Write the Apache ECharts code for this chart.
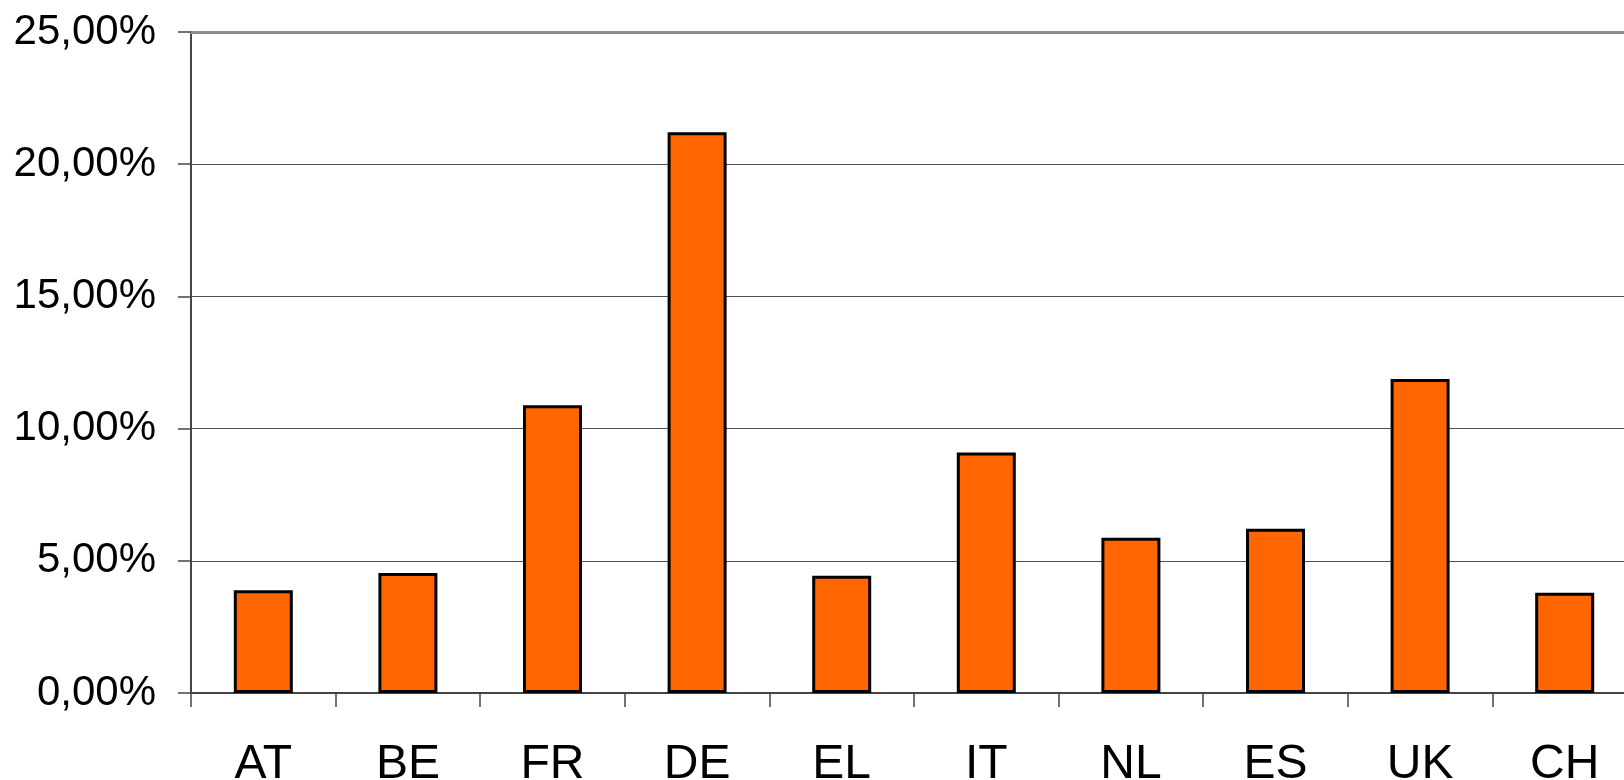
<!DOCTYPE html>
<html>
<head>
<meta charset="utf-8">
<script src="https://cdn.jsdelivr.net/npm/echarts@6/dist/echarts.min.js"></script>
<style>
html,body{margin:0;padding:0;background:#fff;}
#chart{width:1624px;height:780px;}
</style>
</head>
<body>
<div id="chart"></div>
<script>
const categories = ['AT','BE','FR','DE','EL','IT','NL','ES','UK','CH'];
const shares = [3.89, 4.54, 10.88, 21.21, 4.43, 9.10, 5.87, 6.21, 11.88, 3.79];
const yTicks = [0, 5, 10, 15, 20, 25];

const chart = echarts.init(document.getElementById('chart'));
const fontFamily = '"Liberation Sans", Arial, sans-serif';
chart.setOption({
  animation: false,
  backgroundColor: '#ffffff',
  grid: { left: 191, top: 32, width: 1446, height: 661, containLabel: false, outerBoundsMode: 'none' },
  xAxis: [{
    type: 'category',
    data: categories,
    position: 'bottom',
    axisLine: { show: true, lineStyle: { color: '#444', width: 2 } },
    axisTick: { show: true, length: 14, alignWithLabel: false, lineStyle: { color: '#444', width: 1.5 } },
    axisLabel: { fontSize: 48, color: '#000', fontFamily: fontFamily, margin: 48 },
    splitLine: { show: false }
  }, {
    type: 'category',
    data: categories,
    position: 'top',
    axisLine: { show: true, lineStyle: { color: '#8a8a8a', width: 3 } },
    axisTick: { show: false },
    axisLabel: { show: false },
    splitLine: { show: false }
  }],
  yAxis: {
    type: 'value',
    min: yTicks[0],
    max: yTicks[yTicks.length - 1],
    interval: 5,
    axisLine: { show: true, lineStyle: { color: '#444', width: 2 } },
    axisTick: { show: true, length: 13, lineStyle: { color: '#444', width: 1.5 } },
    axisLabel: {
      fontSize: 42, color: '#000', fontFamily: fontFamily, margin: 35,
      formatter: v => v.toFixed(2).replace('.', ',') + '%'
    },
    splitLine: { show: true, lineStyle: { color: '#505050', width: 1.2 } }
  },
  series: [{
    type: 'bar',
    data: shares,
    xAxisIndex: 0,
    barWidth: 59,
    itemStyle: { color: '#ff6600', borderColor: '#000', borderWidth: 3 }
  }]
});
</script>
</body>
</html>
